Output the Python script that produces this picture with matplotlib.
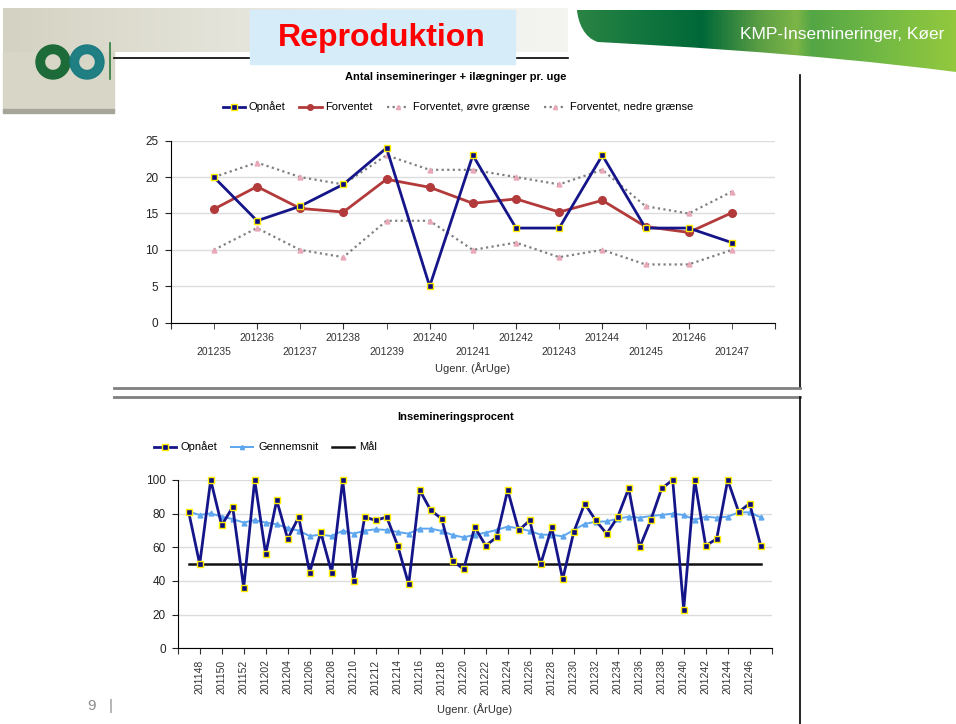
import numpy as np
import matplotlib.pyplot as plt
from matplotlib.patches import Rectangle, PathPatch, Wedge
from matplotlib.path import Path
from matplotlib.lines import Line2D
from matplotlib.colors import LinearSegmentedColormap

plt.rcParams['font.family'] = ['Liberation Sans', 'DejaVu Sans']

# Data - top chart (Antal insemineringer + ilægninger pr. uge)
uger_top = ['201235', '201236', '201237', '201238', '201239', '201240', '201241',
            '201242', '201243', '201244', '201245', '201246', '201247']
opnaaet_top = [20, 14, 16, 19, 24, 5, 23, 13, 13, 23, 13, 13, 11]
forventet = [15.6, 18.7, 15.7, 15.2, 19.7, 18.6, 16.4, 17.0, 15.2, 16.8, 13.2, 12.4, 15.1]
oevre_graense = [20, 22, 20, 19, 23, 21, 21, 20, 19, 21, 16, 15, 18]
nedre_graense = [10, 13, 10, 9, 14, 14, 10, 11, 9, 10, 8, 8, 10]

# Data - bottom chart (Insemineringsprocent)
uger_bund = ['2011%02d' % w for w in range(47, 53)] + ['2012%02d' % w for w in range(1, 48)]
opnaaet_bund = [81, 50, 100, 73, 84, 36, 100, 56, 88, 65, 78, 45, 69, 45, 100, 40, 78, 76,
                78, 61, 38, 94, 82, 77, 52, 47, 72, 61, 66, 94, 70, 76, 50, 72, 41, 69,
                86, 76, 68, 78, 95, 60, 76, 95, 100, 23, 100, 61, 65, 100, 81, 86, 61]
gennemsnit = [81.2, 79.2, 80.2, 78.2, 76.8, 74.7, 76.2, 74.7, 73.7, 71.5, 69.9, 66.7, 67.5,
              66.7, 69.9, 68.1, 69.9, 70.7, 70.3, 69.1, 68.1, 71.1, 71.1, 69.7, 67.3, 65.9,
              67.5, 68.7, 70.3, 72.3, 71.3, 69.7, 67.5, 67.5, 66.5, 70.3, 73.9, 75.2, 75.4,
              77.0, 78.2, 77.6, 78.6, 79.2, 80.0, 79.2, 76.4, 78.2, 77.6, 78.2, 80.8, 80.8, 77.8]
maal = 50

W, H = 956, 724
fig = plt.figure(figsize=(W / 100, H / 100), dpi=100)
fig.patch.set_facecolor('white')

# Background axes in pixel coordinates for the slide decoration
bg = fig.add_axes([0, 0, 1, 1])
bg.set_xlim(0, W)
bg.set_ylim(H, 0)
bg.axis('off')

# beige header band
beige = LinearSegmentedColormap.from_list('beige', ['#d4d2c2', '#e2e1d6', '#eeeee8', '#f4f4f1'])
bg.imshow(np.linspace(0, 1, 300).reshape(1, -1), cmap=beige, aspect='auto',
          extent=[3, 568, 52, 8], zorder=0)
bg.add_patch(Rectangle((3, 52), 111, 58, color='#d7d6c7', zorder=0))
bg.add_patch(Rectangle((3, 109), 111, 4, color='#a6a59a', zorder=0))

# logo rings
bg.add_patch(Wedge((53, 62), 17, 0, 360, width=8.5, color='#1d6b38', zorder=2))
bg.add_patch(Wedge((87, 62), 17, 0, 360, width=8.5, color='#167a80', alpha=0.95, zorder=2))
bg.plot([110, 110], [43, 79], color='#2e7d3e', lw=1.2, zorder=2)

# header line and title box
bg.plot([114, 568], [58, 58], color='black', lw=1.2, zorder=1)
bg.add_patch(Rectangle((250, 10), 265, 54, color='#d6ecf8', zorder=2))
bg.text(382, 38, 'Reproduktion', color='#ff0000', fontsize=23, weight='bold',
        ha='center', va='center', zorder=3)

# green swoosh
verts = [(577, 10), (956, 10), (956, 72), (800, 52), (650, 45), (598, 42),
         (584, 38), (578, 22), (577, 10)]
codes = [Path.MOVETO, Path.LINETO, Path.LINETO, Path.CURVE4, Path.CURVE4, Path.CURVE4,
         Path.CURVE4, Path.CURVE4, Path.CURVE4]
swoosh = PathPatch(Path(verts, codes), facecolor='none', edgecolor='none')
bg.add_patch(swoosh)
greens = LinearSegmentedColormap.from_list('greens', [
    (0.0, '#2a8444'), (0.17, '#12763e'), (0.33, '#006838'), (0.48, '#5a9e44'),
    (0.58, '#7db547'), (0.62, '#53a645'), (0.8, '#72b944'), (1.0, '#93c83e')])
im = bg.imshow(np.linspace(0, 1, 400).reshape(1, -1), cmap=greens, aspect='auto',
               extent=[577, 956, 72, 10], zorder=1)
im.set_clip_path(swoosh)
bg.text(842, 35, 'KMP-Insemineringer, Køer', color='white', fontsize=12.5,
        ha='center', va='center', zorder=3)

# chart panel borders
bg.plot([800, 800], [75, 388], color='black', lw=1.2)
bg.plot([114, 800], [388, 388], color='#808080', lw=2)
bg.plot([114, 800], [397, 397], color='#808080', lw=2)
bg.plot([800, 800], [397, 724], color='black', lw=1.2)

# page number
bg.text(92, 706, '9', color='#8c8c8c', fontsize=11, ha='center', va='center')
bg.text(111, 706, '|', color='#8c8c8c', fontsize=11, ha='center', va='center')

navy = '#15158a'
red = '#b23a3a'
grey = '#808080'
pink = '#e8a8b8'
lightblue = '#5ea6ee'

# ---------- top chart ----------
ax1 = fig.add_axes([170.7 / W, 1 - 322.7 / H, 604.3 / W, 182 / H])
ax1.set_facecolor('none')
x1 = np.arange(len(uger_top))
ax1.plot(x1, oevre_graense, color=grey, ls=(0, (1, 1.5)), lw=1.6, marker='^', ms=3.5,
         mfc=pink, mec=pink, zorder=3)
ax1.plot(x1, nedre_graense, color=grey, ls=(0, (1, 1.5)), lw=1.6, marker='^', ms=3.5,
         mfc=pink, mec=pink, zorder=3)
ax1.plot(x1, forventet, color=red, lw=2, marker='o', ms=5.5, zorder=4)
ax1.plot(x1, opnaaet_top, color=navy, lw=2, marker='s', ms=5, mfc='#0a0a80',
         mec='#ffee00', mew=1, zorder=5, clip_on=False)
ax1.set_xlim(-1, len(uger_top))
ax1.set_ylim(0, 25)
ax1.set_yticks(range(0, 26, 5))
ax1.grid(axis='y', color='#dcdcdc', lw=1)
ax1.set_axisbelow(True)
for s in ['top', 'right']:
    ax1.spines[s].set_visible(False)
ax1.tick_params(axis='y', labelsize=8.5, length=4, pad=5, colors='#222222')
# ticks at every week, labels alternating in two rows
ax1.set_xticks([-1] + [i for i in x1 if i % 2 == 1] + [len(uger_top)])
ax1.set_xticklabels([''] + [uger_top[i] for i in x1 if i % 2 == 1] + [''])
ax1.set_xticks([i for i in x1 if i % 2 == 0], minor=True)
ax1.set_xticklabels([uger_top[i] for i in x1 if i % 2 == 0], minor=True)
ax1.tick_params(axis='x', which='major', labelsize=7.5, length=4, pad=3.5, colors='#333333')
ax1.tick_params(axis='x', which='minor', labelsize=7.5, length=4, pad=13.5, colors='#333333')

fig.text(456 / W, 1 - 77 / H, 'Antal insemineringer + ilægninger pr. uge',
         ha='center', va='center', weight='bold', fontsize=8)
fig.text(472.8 / W, 1 - 368 / H, 'Ugenr. (ÅrUge)', ha='center', va='center',
         fontsize=8, color='#333333')

handles_top = [
    Line2D([], [], color=navy, lw=2, marker='s', ms=4, mfc='#0a0a80', mec='#ffee00'),
    Line2D([], [], color=red, lw=2, marker='o', ms=4),
    Line2D([], [], color=grey, ls=(0, (1, 1.5)), lw=1.6, marker='^', ms=3, mfc=pink, mec=pink),
    Line2D([], [], color=grey, ls=(0, (1, 1.5)), lw=1.6, marker='^', ms=3, mfc=pink, mec=pink),
]
fig.legend(handles_top, ['Opnået', 'Forventet', 'Forventet, øvre grænse', 'Forventet, nedre grænse'],
           loc='center left', bbox_to_anchor=(217 / W, 1 - 107 / H), ncol=4, frameon=False,
           fontsize=8, handlelength=2.0, handletextpad=0.35, columnspacing=1.25, borderpad=0)

# ---------- bottom chart ----------
ax2 = fig.add_axes([177.7 / W, 1 - 648.3 / H, 594 / W, 168.3 / H])
ax2.set_facecolor('none')
x2 = np.arange(len(uger_bund))
ax2.plot(x2, [maal] * len(x2), color='#111111', lw=1.8, zorder=3)
ax2.plot(x2, gennemsnit, color=lightblue, lw=1.4, marker='^', ms=3.5, zorder=4)
ax2.plot(x2, opnaaet_bund, color=navy, lw=2, marker='s', ms=5, mfc='#0a0a80',
         mec='#ffee00', mew=1, zorder=5, clip_on=False)
ax2.set_xlim(-1, len(uger_bund))
ax2.set_ylim(0, 100)
ax2.set_yticks(range(0, 101, 20))
ax2.grid(axis='y', color='#dcdcdc', lw=1)
ax2.set_axisbelow(True)
for s in ['top', 'right']:
    ax2.spines[s].set_visible(False)
ax2.tick_params(axis='y', labelsize=8.5, length=4, pad=4.5, colors='#222222')
xt = list(range(-1, len(uger_bund) + 1, 2))
ax2.set_xticks(xt)
ax2.set_xticklabels([uger_bund[i] if 0 <= i < len(uger_bund) else '' for i in xt],
                    rotation=90)
ax2.tick_params(axis='x', labelsize=7.5, length=4, pad=4, colors='#333333')

fig.text(456 / W, 1 - 417 / H, 'Insemineringsprocent', ha='center', va='center',
         weight='bold', fontsize=8)
fig.text(474.7 / W, 1 - 709 / H, 'Ugenr. (ÅrUge)', ha='center', va='center',
         fontsize=8, color='#333333')

handles_bund = [
    Line2D([], [], color=navy, lw=2, marker='s', ms=4, mfc='#0a0a80', mec='#ffee00'),
    Line2D([], [], color=lightblue, lw=1.4, marker='^', ms=3),
    Line2D([], [], color='#111111', lw=1.8),
]
fig.legend(handles_bund, ['Opnået', 'Gennemsnit', 'Mål'], loc='center left',
           bbox_to_anchor=(148 / W, 1 - 447 / H), ncol=3, frameon=False, fontsize=8,
           handlelength=2.0, handletextpad=0.45, columnspacing=1.2, borderpad=0)

fig.savefig('out.png', dpi=100)
